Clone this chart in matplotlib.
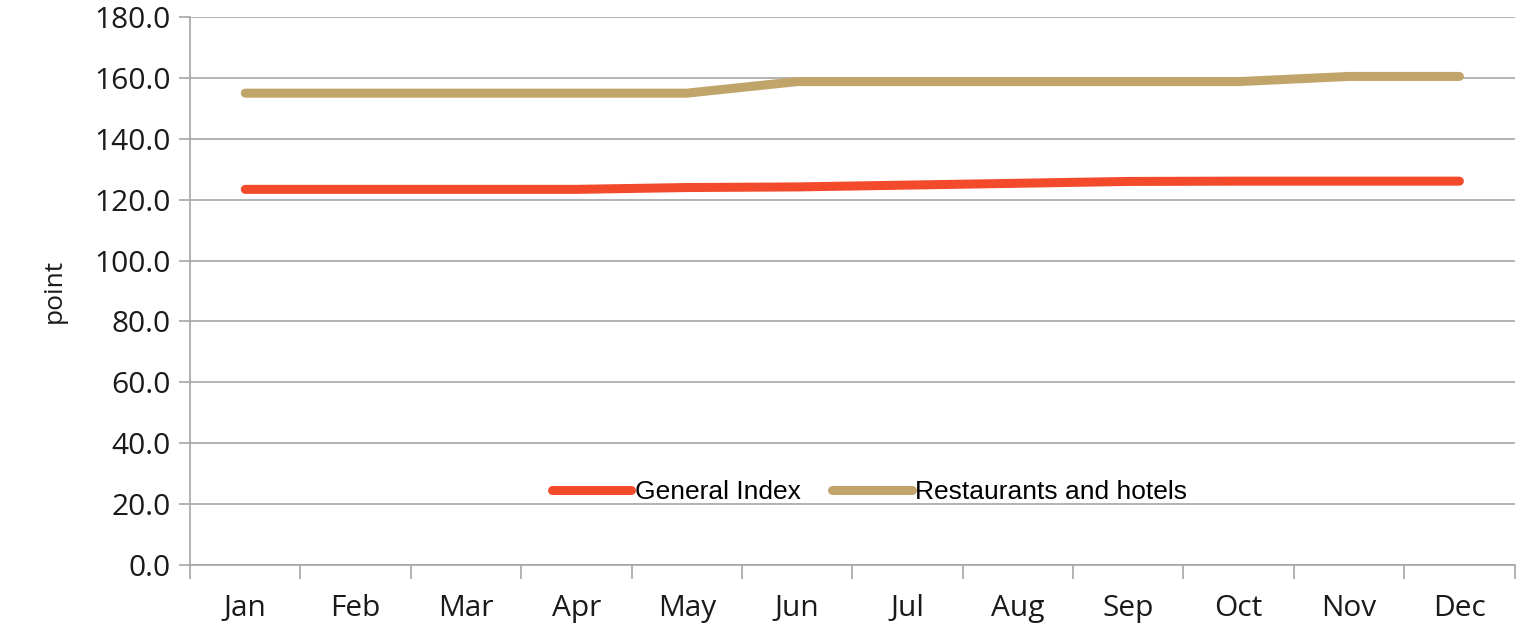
import matplotlib
matplotlib.use("Agg")
import matplotlib.pyplot as plt
import numpy as np

months = ["Jan", "Feb", "Mar", "Apr", "May", "Jun", "Jul", "Aug", "Sep", "Oct", "Nov", "Dec"]
general_index = [123.4, 123.4, 123.4, 123.4, 124.0, 124.2, 124.8, 125.4, 126.0, 126.1, 126.1, 126.1]
restaurants_hotels = [155.0, 155.0, 155.0, 155.0, 155.0, 158.8, 158.8, 158.8, 158.8, 158.8, 160.5, 160.5]
yticks = [0, 20, 40, 60, 80, 100, 120, 140, 160, 180]

fig = plt.figure(figsize=(15.33, 6.32), dpi=100)
ax = fig.add_axes([0.124, 0.106, 0.864, 0.867])

x = np.arange(len(months))
grid_c = "#a6a6a6"
for v in yticks:
    ax.axhline(v, color=grid_c, lw=1.2, zorder=1)

ax.plot(x, general_index, color="#f34a2c", lw=6.5, solid_capstyle="round", label="General Index", zorder=3)
ax.plot(x, restaurants_hotels, color="#c1a46a", lw=6.5, solid_capstyle="round", label="Restaurants and hotels", zorder=3)

tick_font = {"family": "Open Sans", "size": 21.5}
ax.set_xlim(-0.5, len(months) - 0.5)
ax.set_ylim(0, 180)
ax.set_yticks(yticks)
ax.set_yticklabels([f"{v:.1f}" for v in yticks], fontdict=tick_font, color="#1a1a1a")
ax.set_xticks(x)
ax.set_xticklabels(months, fontdict=tick_font, color="#1a1a1a")
ax.set_xticks(np.arange(-0.5, len(months), 1.0), minor=True)
ax.tick_params(axis="x", which="major", length=0, pad=21)
ax.tick_params(axis="x", which="minor", length=10, color=grid_c, width=1.2)
ax.tick_params(axis="y", length=8, color=grid_c, width=1.2, pad=6)

for s in ["top", "right"]:
    ax.spines[s].set_visible(False)
for s in ["left", "bottom"]:
    ax.spines[s].set_color(grid_c)
    ax.spines[s].set_linewidth(1.2)

ax.set_ylabel("point", fontfamily="Open Sans", fontsize=19, color="#1a1a1a", labelpad=20)

leg = ax.legend(loc="center", bbox_to_anchor=(0.513, 0.133), ncol=2, frameon=False,
                prop={"family": "Liberation Sans", "size": 19}, handlelength=3.0,
                handletextpad=0.15, columnspacing=1.2)

fig.savefig("out.png", dpi=100, facecolor="white")
